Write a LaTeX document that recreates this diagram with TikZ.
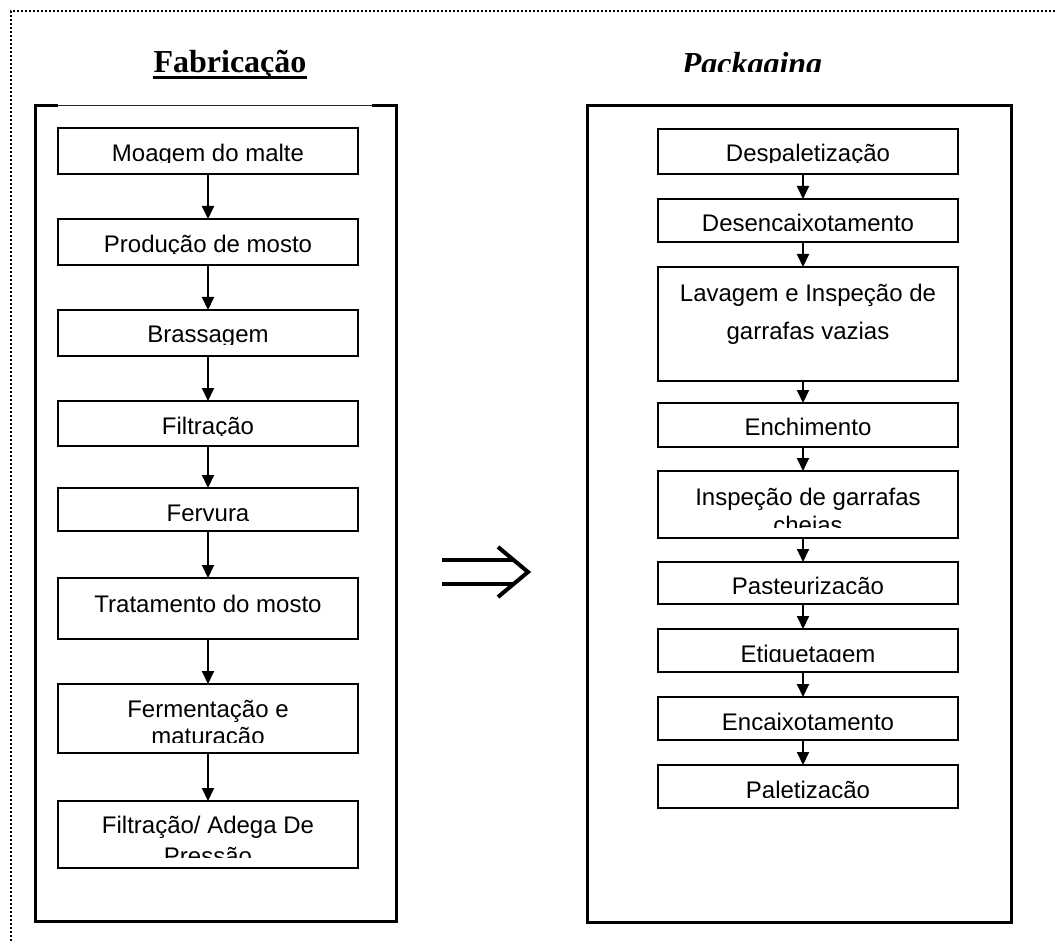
\documentclass[tikz,border=0pt]{standalone}
\usepackage{fontspec}
\setmainfont{Liberation Serif}
\newfontfamily\arialf{Liberation Sans}
\usetikzlibrary{arrows.meta}
\tikzset{
  stepbox/.style={draw, line width=2pt, minimum width=300pt, inner sep=0pt, outer sep=0pt},
  steptext/.style={anchor=north, inner sep=0pt, outer sep=0pt, align=center},
  flow/.style={line width=2pt, -{Triangle[length=13pt,width=12pt]}},
  outerbox/.style={line width=3pt},
}
% #1 name, #2 x, #3 top, #4 bottom, #5 text, #6 baselineskip, #7 text height (baseline of last line below top)
\newcommand\mkstep[7]{%
  \node[stepbox, minimum height={#4-#3}] (#1) at (#2,{(#3+#4)/2}) {};
  \begin{scope}
    \clip (#1.north west) rectangle ([yshift=11pt]#1.south east);
    \node[steptext, text height=#7pt, font=\arialf\fontsize{24}{#6}\selectfont] (#1t) at (#1.north) {#5};
  \end{scope}}
\begin{document}
\begin{tikzpicture}[x=1pt,y=-1pt]
\useasboundingbox (0,0) rectangle (1055,941);
% dotted frame
\draw[line width=2pt, dash pattern=on 2pt off 2pt] (1055,11) -- (11,11) -- (11,941);
% titles
\node[font=\fontsize{32}{32}\selectfont\bfseries, anchor=base, inner sep=0pt] (fab) at (230,73) {Fabricação};
\draw[line width=3pt] ([yshift=-4.5pt]fab.base west) -- ([yshift=-4.5pt]fab.base east);
\begin{scope}
  \clip (600,0) rectangle (900,72);
  \node[font=\fontsize{32}{32}\selectfont\bfseries\itshape, anchor=base, inner sep=0pt] (pack) at (752,75) {Packaging};
\end{scope}
% outer boxes
\draw[outerbox] (58,106) -- (35,106) -- (35,921) -- (396,921) -- (396,106) -- (372,106);
\draw[line width=1pt, black!85] (58,106) -- (372,106);
\draw[outerbox] (587,106) rectangle (1011,922);
% left column
\mkstep{l1}{208}{128}{174}{Moagem do malte}{27}{34}
\mkstep{l2}{208}{219}{265}{Produção de mosto}{27}{34}
\mkstep{l3}{208}{310}{356}{Brassagem}{27}{33}
\mkstep{l4}{208}{401}{446}{Filtração}{27}{33}
\mkstep{l5}{208}{488}{531}{Fervura}{27}{33}
\mkstep{l6}{208}{578}{639}{Tratamento do mosto}{27}{34}
\mkstep{l7}{208}{684}{753}{Fermentação e\\maturação}{27}{60}
\mkstep{l8}{208}{801}{868}{Filtração/ Adega De\\Pressão}{31}{63}
\foreach \a/\b in {l1/l2,l2/l3,l3/l4,l4/l5,l5/l6,l6/l7,l7/l8}
  \draw[flow] (\a) -- (\b);
% right column
\mkstep{r1}{808}{129}{174}{Despaletização}{27}{33}
\mkstep{r2}{808}{199}{242}{Desencaixotamento}{27}{33}
\mkstep{r3}{808}{267}{381}{Lavagem e Inspeção de\\garrafas vazias}{38}{73}
\mkstep{r4}{808}{403}{447}{Enchimento}{27}{32}
\mkstep{r5}{808}{471}{538}{Inspeção de garrafas\\cheias}{28}{62}
\mkstep{r6}{808}{562}{604}{Pasteurização}{27}{32}
\mkstep{r7}{808}{629}{672}{Etiquetagem}{27}{33}
\mkstep{r8}{808}{697}{740}{Encaixotamento}{27}{33}
\mkstep{r9}{808}{765}{808}{Paletização}{27}{33}
\foreach \a/\b in {r1/r2,r2/r3,r3/r4,r4/r5,r5/r6,r6/r7,r7/r8,r8/r9}
  \draw[flow] ([xshift=-5pt]\a.south) -- ([xshift=-5pt]\b.north);
% double arrow
\draw[line width=4pt] (442,560) -- (514,560) (442,584) -- (514,584);
\draw[line width=4pt, miter limit=10] (498,547) -- (528,572) -- (498,597);
\end{tikzpicture}
\end{document}
